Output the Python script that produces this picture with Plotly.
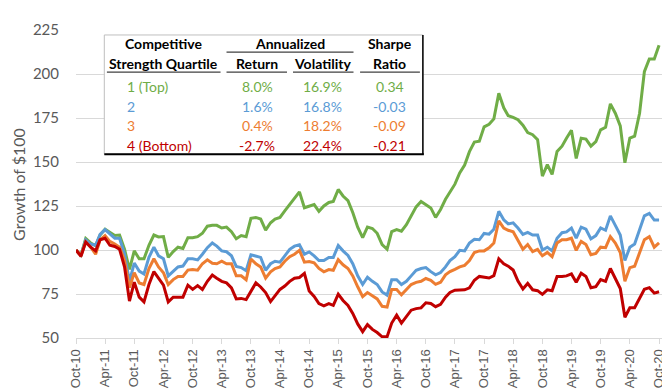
import pandas as pd
import plotly.graph_objects as go

dates = pd.date_range("2010-10-01", periods=121, freq="MS")

q1_top = [100, 97, 106.5, 104, 102.5, 108.5, 111.8, 110, 108.2, 108.5, 100.4, 89, 99.5, 95, 95, 102.7, 108.5, 107.4, 107.6, 95.8,
          99.1, 101.6, 100.9, 107, 107, 107.6, 109.5, 113.5, 114, 114, 112.5, 113, 110.4, 106.4, 108.2, 107.5, 118, 118.5, 117.6, 111.3,
          115.5, 117.6, 118.5, 122.2, 125.8, 129, 133, 124, 125, 125.8, 122, 125, 127, 127.6, 134.4, 130.7, 128, 121.3, 113, 107,
          113, 112.2, 109.5, 103, 100.4, 110.4, 111.6, 110.7, 114.4, 119.5, 124.5, 127.6, 126, 123.9, 118.5, 123, 128.8, 132.9, 137.4, 143.8,
          148.3, 155.9, 161.3, 161.8, 170, 171.4, 174.5, 189, 180.8, 176.3, 175.4, 174, 170.9, 166.7, 165.5, 162.7, 142, 148.5, 143, 156,
          159, 163.5, 168, 152, 163.5, 163, 159, 161.6, 168.3, 169.7, 183, 177.7, 170.5, 149.6, 163.6, 164.7, 177.7, 201.3, 208.5, 208.5,
          216.3]
q2 = [100, 97, 105.8, 103.4, 102.7, 108.9, 111.6, 109.4, 106.7, 106.7, 97.6, 82.2, 92.6, 88, 86.4, 95.8, 101.6, 96.7, 95, 85.3,
      88.2, 90.4, 90.9, 95, 95, 94.4, 97.6, 101.3, 104, 102.2, 99.5, 99, 96.7, 90.7, 90, 88.2, 97.3, 96.7, 95.8, 88.5,
      92.2, 93.6, 93.1, 96.7, 100.4, 102.2, 103, 97.6, 98.9, 96.7, 94, 94, 95.8, 95.8, 102.5, 99.5, 96.9, 92.2, 85.3, 80.4,
      84.5, 82.2, 80.4, 76.2, 74.4, 83.1, 83.1, 80.4, 82.2, 85.3, 88.5, 89.5, 90, 87.7, 85.9, 87.2, 90.4, 94, 96.2, 99.8,
      99.5, 104, 106.1, 105.8, 109.4, 109, 111.8, 122, 117.2, 114.8, 115.4, 112.5, 108.9, 110, 108.5, 108.5, 100, 101.6, 99.5, 106.7,
      109.8, 110.3, 112.5, 106.7, 113, 111.8, 106.3, 108.2, 112.5, 111.2, 119.4, 114, 108.5, 94, 101.6, 103.4, 112.1, 119.4, 120.8, 117,
      117]
q3 = [100, 97, 104.5, 101.6, 97.6, 105.8, 108.2, 104.9, 103.4, 101.6, 94, 78.6, 87.1, 81.3, 80.4, 89.5, 95, 90.4, 87.1, 80.4,
      83.2, 85, 85, 88.6, 88.9, 88.5, 92.2, 94.4, 92.5, 92.2, 93.6, 92.2, 92.2, 85.3, 85.3, 83.1, 94.9, 92.2, 90.4, 84,
      87.6, 89.5, 90.4, 93.6, 96.2, 97.6, 99.8, 93.1, 93.5, 92.7, 89.5, 87.6, 88.9, 88.5, 94.5, 91.6, 89.5, 85.3, 79.1, 73.5,
      75.8, 74, 72.2, 68, 67.6, 77.6, 77.6, 74.5, 77.3, 80.4, 81.6, 82.2, 83.8, 82.8, 80.5, 81.7, 85.9, 87.7, 89, 90.4,
      91.3, 94, 98.6, 99.5, 99.5, 101.3, 104, 116.6, 112.5, 111.2, 110.3, 105.8, 100.4, 103.1, 99.1, 100.4, 96.7, 98.6, 96.2, 104,
      105.8, 105.8, 106.7, 99.8, 104.9, 103.1, 97.3, 98, 101.6, 101.3, 107.6, 104, 98.6, 82.2, 90, 90.8, 98.6, 105.8, 107.6, 101.6,
      104]
q4_bottom = [100, 96.4, 104.5, 101.6, 99.5, 105.8, 106.7, 102.7, 102, 100.4, 90.4, 71, 81.7, 73.2, 70.5, 80.4, 87.7, 84, 80, 70.5,
             73.2, 73.2, 73.2, 80, 77.6, 79.8, 77.6, 82.2, 85.8, 84, 82.2, 81.3, 78.5, 72.2, 72.5, 71.8, 76.7, 81.3, 79, 75.8,
             70.7, 74, 77.6, 79.5, 82.2, 84, 84.4, 86.7, 76.7, 73.6, 69.5, 68.2, 69.5, 68.5, 74.9, 71.3, 68.5, 64, 58, 53.6,
             57.6, 54.9, 53.1, 50.7, 50.7, 58.5, 63, 58.5, 62.2, 65.8, 66.7, 67.1, 70, 69.6, 67.8, 69.1, 73.2, 75.9, 77.2, 77.4,
             77.4, 78.5, 82.8, 85, 84.4, 84.1, 85.4, 95, 92.2, 90.8, 88.6, 82.3, 77.8, 81, 77.4, 76.9, 74.8, 77.4, 76.8, 85,
             85, 85.3, 86.4, 81.7, 86.8, 85, 78.6, 79.2, 83.2, 82.2, 89.5, 84.1, 78.1, 61.8, 67.2, 67.2, 72.6, 77.7, 78.6, 75.5,
             76.3]

quartile_labels = ["1 (Top)", "2", "3", "4 (Bottom)"]
ann_return = ["8.0%", "1.6%", "0.4%", "-2.7%"]
ann_volatility = ["16.9%", "16.8%", "18.2%", "22.4%"]
sharpe = ["0.34", "-0.03", "-0.09", "-0.21"]
line_colors = ["#70AD47", "#5B9BD5", "#ED7D31", "#C00000"]
y_ticks = [50, 75, 100, 125, 150, 175, 200, 225]

series = [q1_top, q2, q3, q4_bottom]

fig = go.Figure()
for name, vals, col in zip(quartile_labels, series, line_colors):
    fig.add_trace(go.Scatter(x=dates, y=vals, mode="lines", name=name,
                             line=dict(color=col, width=3), showlegend=False))

# plot area in pixels
L, R, T, B = 68.3, 658.2, 12.3, 334.0
W, H = 670, 392


def px(x):
    return (x - L) / (R - L)


def py(y):
    return (B - y) / (B - T)


fig.update_layout(
    width=W, height=H,
    margin=dict(l=L, r=W - R, t=T, b=H - B, pad=0),
    paper_bgcolor="white", plot_bgcolor="white",
    font=dict(family="Lato", color="#595959"),
    xaxis=dict(
        type="date",
        range=["2010-10-01", "2020-11-01"],
        tick0="2010-10-01", dtick="M6", tickformat="%b-%y",
        tickangle=-90,
        tickfont=dict(family="Liberation Sans", size=13, color="#595959"),
        ticks="outside", ticklen=5, tickcolor="#D9D9D9",
        showline=True, linecolor="#D9D9D9", linewidth=1,
        showgrid=False, zeroline=False,
    ),
    yaxis=dict(
        range=[50, 225],
        tickvals=y_ticks,
        tickfont=dict(family="Lato", size=15, color="#595959"),
        showgrid=True, gridcolor="#D9D9D9", gridwidth=1,
        zeroline=False, showline=False,
        ticklabelstandoff=16,
    ),
)

annotations = []
annotations.append(dict(text="Growth of $100", textangle=-90, x=px(10), y=0.5,
                        xref="paper", yref="paper", showarrow=False,
                        font=dict(family="Lato", size=16, color="#595959"),
                        xanchor="center", yanchor="middle"))

shapes = []
# table background and borders
tx0, tx1, ty0, ty1 = 96.7, 416.3, 17.5, 142.0
shapes.append(dict(type="rect", xref="paper", yref="paper", x0=px(tx0), x1=px(tx1), y0=py(ty1), y1=py(ty0),
                   fillcolor="white", line=dict(color="#BFBFBF", width=1), layer="above"))
shapes.append(dict(type="line", xref="paper", yref="paper", x0=px(tx0), x1=px(tx1 + 1), y0=py(ty1), y1=py(ty1),
                   line=dict(color="#000000", width=2), layer="above"))
shapes.append(dict(type="line", xref="paper", yref="paper", x0=px(tx1), x1=px(tx1), y0=py(ty0), y1=py(ty1),
                   line=dict(color="#000000", width=1.5), layer="above"))
# header underlines
for (a, b, yy) in [(219.3, 346.7, 35.5), (99.3, 213.3, 56.3), (219.3, 280, 56.3), (286, 346.7, 56.3), (353.3, 413.3, 56.3)]:
    shapes.append(dict(type="line", xref="paper", yref="paper", x0=px(a), x1=px(b), y0=py(yy), y1=py(yy),
                       line=dict(color="#404040", width=1.2), layer="above"))

hdr_font = dict(family="Lato", size=14, color="#000000")


def txt(s, x, y, font, anchor="center"):
    annotations.append(dict(text=s, x=px(x), y=py(y), xref="paper", yref="paper", showarrow=False,
                            font=font, xanchor=anchor, yanchor="middle"))


txt("<b>Competitive</b>", 156.5, 26.7, hdr_font)
txt("<b>Strength Quartile</b>", 156.5, 47.3, hdr_font)
txt("<b>Annualized</b>", 283.3, 26.7, hdr_font)
txt("<b>Return</b>", 250, 47.3, hdr_font)
txt("<b>Volatility</b>", 316, 47.3, hdr_font)
txt("<b>Sharpe</b>", 383, 26.7, hdr_font)
txt("<b>Ratio</b>", 383, 47.3, hdr_font)

row_y = [71, 91.7, 112.3, 133.3]
for i in range(4):
    f = dict(family="Lato", size=14, color=line_colors[i])
    txt(quartile_labels[i], 117.5, row_y[i], f, anchor="left")
    txt(ann_return[i], 250, row_y[i], f)
    txt(ann_volatility[i], 316, row_y[i], f)
    txt(sharpe[i], 383, row_y[i], f)

fig.update_layout(annotations=annotations, shapes=shapes)
fig.write_html("out.html")
